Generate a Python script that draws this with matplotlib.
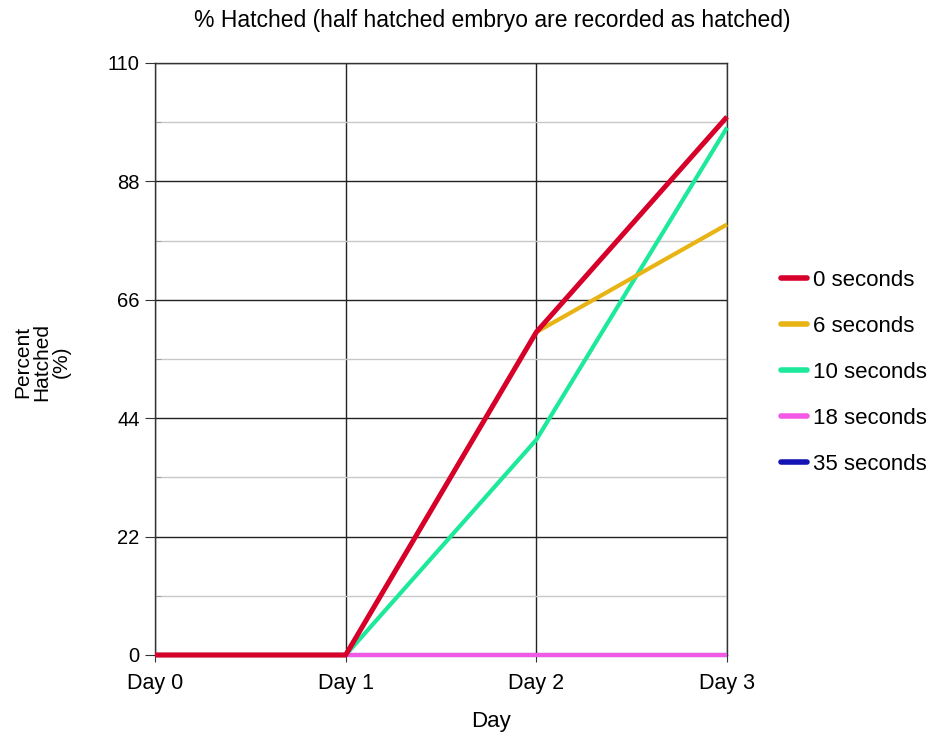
import numpy as np
import matplotlib
matplotlib.use("Agg")
import matplotlib.pyplot as plt
from matplotlib.ticker import MultipleLocator

plt.rcParams['font.family'] = ['Liberation Sans', 'DejaVu Sans']

days = ["Day 0", "Day 1", "Day 2", "Day 3"]
labels = ["0 seconds", "6 seconds", "10 seconds", "18 seconds", "35 seconds"]
s0 = [0, 0, 60, 100]
s6 = [0, 0, 60, 80]
s10 = [0, 0, 40, 98]
s18 = [0, 0, 0, 0]
s35 = [0, 0, 0, 0]
series = [s0, s6, s10, s18, s35]
colours = ["#D7002B", "#E8B414", "#1DE99B", "#F25AE6", "#1414B4"]
widths = [3.6, 3.0, 3.0, 3.0, 3.0]
zorders = [7, 6, 5, 4, 3]

fig = plt.figure(figsize=(9.38, 7.40), dpi=100)
ax = fig.add_axes([155/938, 1 - 655/740, (727-155)/938, (655-63)/740])

x = np.arange(len(days))
for vals, lab, c, w, z in zip(series, labels, colours, widths, zorders):
    ax.plot(x, vals, color=c, lw=w, label=lab, zorder=z, solid_capstyle='butt',
            clip_on=False)

ax.set_xlim(0, 3)
ax.set_ylim(0, 110)
ax.set_xticks(x)
ax.set_xticklabels(days)
ax.yaxis.set_major_locator(MultipleLocator(22))
ax.yaxis.set_minor_locator(MultipleLocator(11))

ax.grid(which='minor', axis='y', color='#c8c8c8', lw=1.0, zorder=0)
ax.grid(which='major', axis='y', color='#222222', lw=1.0, zorder=1)
ax.grid(which='major', axis='x', color='#222222', lw=1.0, zorder=1)

for side in ['top', 'right', 'left', 'bottom']:
    ax.spines[side].set_color('#333333')
    ax.spines[side].set_linewidth(1.0)

ax.tick_params(axis='x', which='major', labelsize=15.5, direction='out', length=5,
               color='#333333', pad=8)
ax.tick_params(axis='y', which='major', labelsize=14.5, direction='out', length=7,
               color='#333333', pad=4)
ax.tick_params(axis='y', which='minor', direction='in', length=4, color='#999999')

fig.text(492/938, 1 - 20/740, "% Hatched (half hatched embryo are recorded as hatched)",
         fontsize=16.5, ha='center', va='center')
fig.text(491/938, 1 - 722/740, "Day", fontsize=16, ha='center', va='center')
fig.text(42/938, 1 - 362/740, "Percent\nHatched\n(%)", fontsize=15, ha='center',
         va='center', rotation=90, linespacing=1.0, multialignment='center')

leg = ax.legend(loc='center left', bbox_to_anchor=(781/938, 1 - 372.5/740),
                bbox_transform=fig.transFigure, frameon=False, fontsize=16,
                handlelength=1.15, handletextpad=0.3, labelspacing=1.12,
                borderaxespad=0, borderpad=0)
for h in leg.get_lines():
    h.set_linewidth(4.0)
    h.set_solid_capstyle('round')

fig.savefig("out.png", dpi=100)
